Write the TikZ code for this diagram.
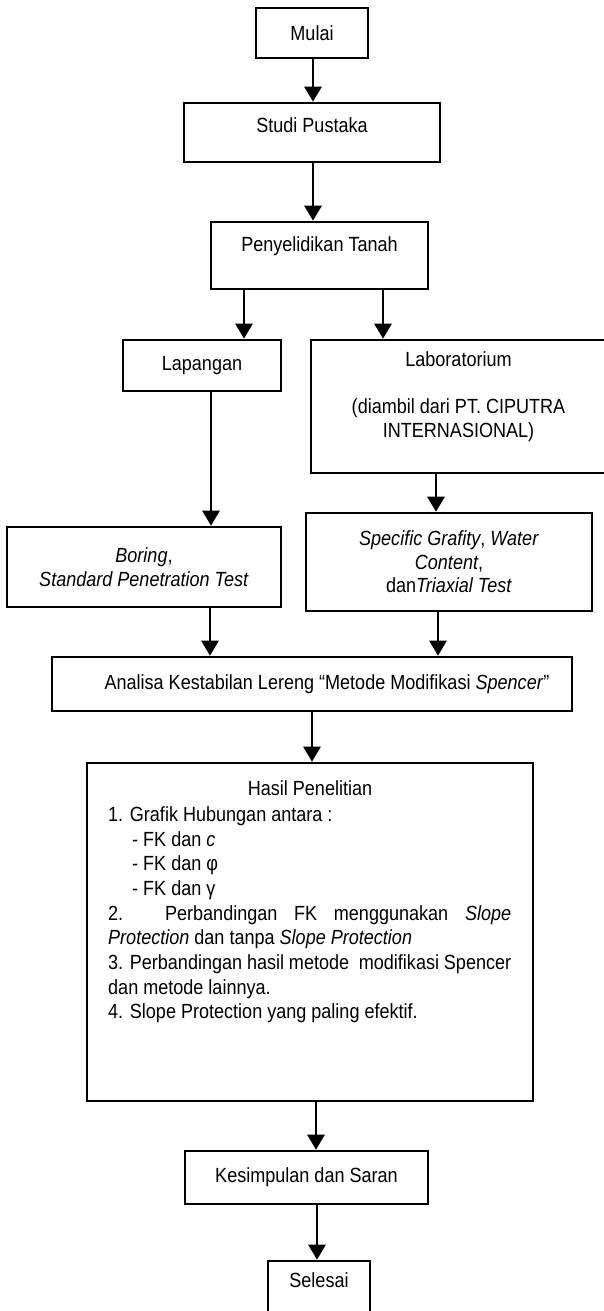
\documentclass[tikz,border=0pt]{standalone}
\usepackage{fontspec}
\setmainfont[FakeStretch=0.88]{Liberation Sans}
\usetikzlibrary{arrows.meta}
\begin{document}
\begin{tikzpicture}[x=1pt,y=-1pt,
  box/.style={draw=black, line width=2.6pt, inner sep=0pt, align=center,
    font=\fontsize{20.5}{23.5}\selectfont},
  arr/.style={line width=2.8pt, -{Triangle[width=17pt,length=15pt]}},
  txt/.style={inner sep=0pt, anchor=base west, font=\fontsize{20.5}{23.5}\selectfont}]
\useasboundingbox (0,0) rectangle (603,1311);
% boxes
\node[box, minimum width=112pt, minimum height=50pt] (mulai) at (312,33) {Mulai};
\node[box, minimum width=256pt, minimum height=59pt] (studi) at (312,132.5) {Studi Pustaka\\[-8pt]\mbox{}};
\node[box, minimum width=217pt, minimum height=67pt] (pen) at (319.5,255.5) {Penyelidikan Tanah\\\mbox{}};
\node[box, minimum width=158pt, minimum height=51pt] (lap) at (202,365.5) {Lapangan};
\node[box, minimum width=295pt, minimum height=133pt] (lab) at (458.5,406.5) {Laboratorium\\\mbox{}\\(diambil dari PT. CIPUTRA\\INTERNASIONAL)\\\mbox{}};
\node[box, minimum width=274pt, minimum height=80pt] (boring) at (144,567) {\textit{Boring},\\\textit{Standard Penetration Test}};
\node[box, minimum width=286pt, minimum height=98pt] (spec) at (449,562) {\textit{Specific Grafity}, \textit{Water}\\\textit{Content},\\dan\textit{Triaxial Test}};
\node[box, minimum width=520pt, minimum height=54pt] (anal) at (312,684) {\hspace*{30pt}Analisa Kestabilan Lereng “Metode Modifikasi \textit{Spencer}”};
\node[box, minimum width=446pt, minimum height=338pt] (hasil) at (310,932) {};
\node[box, minimum width=243pt, minimum height=53pt] (kes) at (306.5,1177.5) {Kesimpulan dan Saran};
\node[box, minimum width=102pt, minimum height=57pt] (sel) at (319,1289.5) {Selesai\\[-4pt]\mbox{}};
% Hasil text
\node[txt, anchor=base] (h0) at (310,795.3) {Hasil Penelitian};
\node[txt] (h1) at (108,821.3) {1. Grafik Hubungan antara :};
\node[txt] (h2) at (132,846) {- FK dan \textit{c}};
\node[txt] (h3) at (132,870.7) {- FK dan φ};
\node[txt] (h4) at (132,895.3) {- FK dan γ};
\node[txt] (h5) at (108,920.1) {\makebox[403pt][s]{2. Perbandingan FK menggunakan \textit{Slope}}};
\node[txt] (h6) at (108,944.8) {\textit{Protection} dan tanpa \textit{Slope Protection}};
\node[txt] (h7) at (108,969.3) {\makebox[403pt][s]{3. Perbandingan hasil metode \ modifikasi Spencer}};
\node[txt] (h8) at (108,994.3) {dan metode lainnya.};
\node[txt] (h9) at (108,1018.9) {4. Slope Protection yang paling efektif.};
% arrows
\draw[arr] (mulai.south -| 313,0) -- (studi.north -| 313,0);
\draw[arr] (studi.south -| 313,0) -- (pen.north -| 313,0);
\draw[arr] (pen.south -| 244,0) -- (lap.north -| 244,0);
\draw[arr] (pen.south -| 383,0) -- (lab.north -| 383,0);
\draw[arr] (lap.south -| 211,0) -- (boring.north -| 211,0);
\draw[arr] (lab.south -| 436,0) -- (spec.north -| 436,0);
\draw[arr] (boring.south -| 210,0) -- (anal.north -| 210,0);
\draw[arr] (spec.south -| 438,0) -- (anal.north -| 438,0);
\draw[arr] (anal.south -| 312,0) -- (hasil.north -| 312,0);
\draw[arr] (hasil.south -| 316,0) -- (kes.north -| 316,0);
\draw[arr] (kes.south -| 317,0) -- (sel.north -| 317,0);
\end{tikzpicture}
\end{document}
